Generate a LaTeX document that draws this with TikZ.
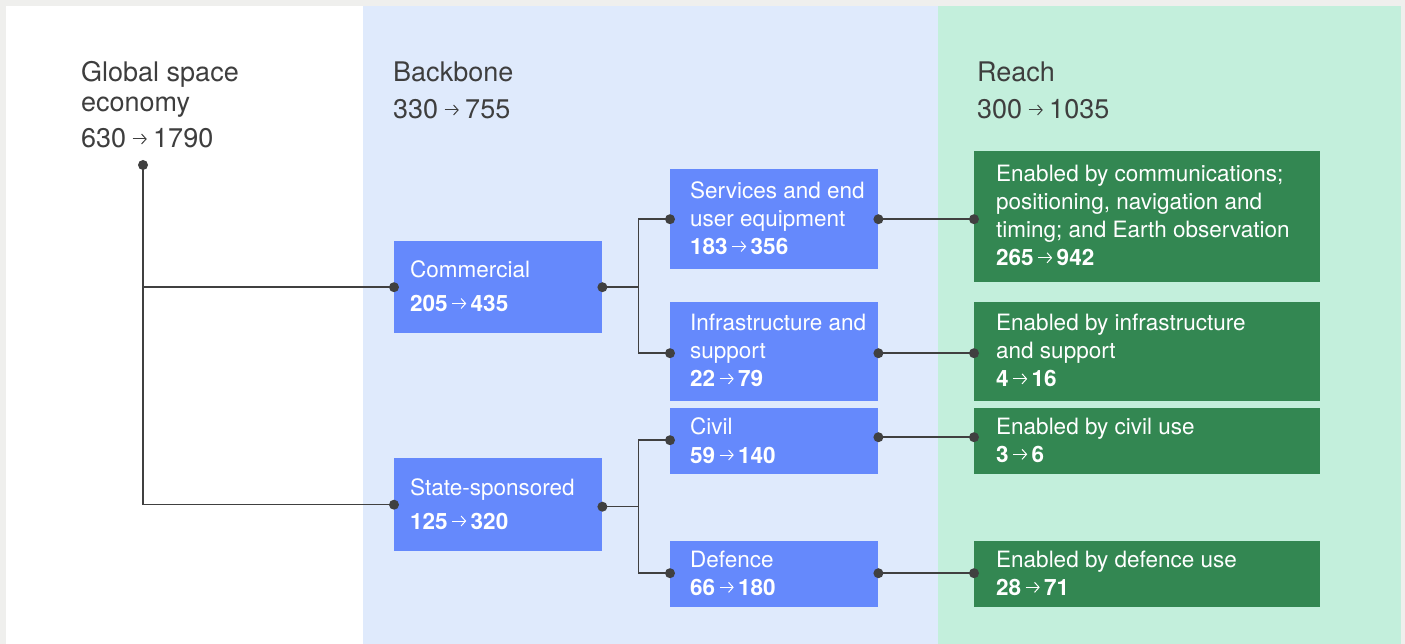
\documentclass[tikz,border=0pt]{standalone}
\usepackage{fontspec}
\setmainfont{TeX Gyre Heros}
\usetikzlibrary{arrows.meta}
\definecolor{bggray}{HTML}{EFEFED}
\definecolor{panelblue}{HTML}{DFEAFC}
\definecolor{panelgreen}{HTML}{C3EFDC}
\definecolor{boxblue}{HTML}{6589FC}
\definecolor{boxgreen}{HTML}{338752}
\definecolor{ink}{HTML}{3E3E3E}
\definecolor{lin}{HTML}{404040}
% arrow glyph: #1 length, #2 raise, #3 side gap, #4 colour
\newcommand\arw[4]{\hspace{#3}\tikz[baseline=-#2]\draw[#4, line width=1pt, -{Straight Barb[length=4.5pt,width=10pt,line width=1pt]}] (0pt,0pt) -- (#1,0pt);\hspace{#3}}
\newcommand\harr{\arw{14pt}{9pt}{6pt}{ink}}
\newcommand\barr{\arw{14pt}{8pt}{4pt}{white}}
\begin{document}
\begin{tikzpicture}[x=1pt,y=-1pt,
  head/.style={anchor=base west, inner sep=0pt, text=ink, font=\fontsize{27}{30}\selectfont},
  bluebox/.style={fill=boxblue, anchor=north west, inner sep=0pt, minimum width=208pt},
  greenbox/.style={fill=boxgreen, anchor=north west, inner sep=0pt, minimum width=346pt},
  boxtext/.style={anchor=west, align=left, inner sep=0pt, text=white, font=\fontsize{22.5}{28}\selectfont},
  conn/.style={draw=lin, line width=1.5pt},
  dot/.style={fill=lin}
]
\useasboundingbox (0,0) rectangle (1405,644);
% background panels
\fill[bggray] (0,0) rectangle (1405,644);
\fill[white] (6,6) rectangle (363,644);
\fill[panelblue] (363,6) rectangle (938,644);
\fill[panelgreen] (938,6) rectangle (1401,644);

% headers
\node[head] (g1) at (81,82) {Global space};
\node[head] (g2) at (81,112) {economy};
\node[head] (g3) at (81,148) {630\harr1790};
\node[head] (b1) at (393,82) {Backbone};
\node[head] (b2) at (393,119) {330\harr755};
\node[head] (r1) at (977,82) {Reach};
\node[head] (r2) at (977,119) {300\harr1035};

% backbone boxes
\node[bluebox, minimum height=92pt] (comm) at (394,241) {};
\node[boxtext] (commt) at ([xshift=16pt,yshift=1pt]comm.west) {Commercial\\[6pt]\textbf{205\barr435}};
\node[bluebox, minimum height=93pt] (state) at (394,458) {};
\node[boxtext] (statet) at ([xshift=16pt,yshift=1pt]state.west) {State-sponsored\\[6pt]\textbf{125\barr320}};

\node[bluebox, minimum height=100pt] (serv) at (670,169) {};
\node[boxtext] (servt) at ([xshift=20pt,yshift=1pt]serv.west) {Services and end\\user equipment\\\textbf{183\barr356}};
\node[bluebox, minimum height=99pt] (infra) at (670,302) {};
\node[boxtext] (infrat) at ([xshift=20pt,yshift=1pt]infra.west) {Infrastructure and\\support\\\textbf{22\barr79}};
\node[bluebox, minimum height=66pt] (civil) at (670,408) {};
\node[boxtext] (civilt) at ([xshift=20pt,yshift=1pt]civil.west) {Civil\\[1pt]\textbf{59\barr140}};
\node[bluebox, minimum height=66pt] (def) at (670,541) {};
\node[boxtext] (deft) at ([xshift=20pt,yshift=1pt]def.west) {Defence\\\textbf{66\barr180}};

% reach boxes
\node[greenbox, minimum height=131pt] (e1) at (974,151) {};
\node[boxtext] (e1t) at ([xshift=22pt,yshift=1pt]e1.west) {Enabled by communications;\\positioning, navigation and\\timing; and Earth observation\\\textbf{265\barr942}};
\node[greenbox, minimum height=99pt] (e2) at (974,302) {};
\node[boxtext] (e2t) at ([xshift=22pt,yshift=1pt]e2.west) {Enabled by infrastructure\\and support\\\textbf{4\barr16}};
\node[greenbox, minimum height=66pt] (e3) at (974,408) {};
\node[boxtext] (e3t) at ([xshift=22pt,yshift=1pt]e3.west) {Enabled by civil use\\\textbf{3\barr6}};
\node[greenbox, minimum height=66pt] (e4) at (974,541) {};
\node[boxtext] (e4t) at ([xshift=22pt,yshift=1pt]e4.west) {Enabled by defence use\\\textbf{28\barr71}};

% connectors
\coordinate (gdot) at (143,165);
\draw[conn] (gdot) |- (comm.west);
\draw[conn] (gdot) |- (state.west);
\coordinate (j1) at ([xshift=36pt]comm.east);
\draw[conn] (comm.east) -- (j1) |- (serv.west);
\draw[conn] (j1) |- ([yshift=-1.5pt]infra.west);
\coordinate (j2) at ([xshift=36pt,yshift=-2pt]state.east);
\draw[conn] ([yshift=-2pt]state.east) -- (j2) |- ([yshift=1pt]civil.west);
\draw[conn] (j2) |- ([yshift=1pt]def.west);
\draw[conn] (serv.east) -- (serv.east -| e1.west);
\draw[conn] ([yshift=-1.5pt]infra.east) -- ([yshift=-1.5pt]infra.east -| e2.west);
\draw[conn] ([yshift=4pt]civil.east) -- ([yshift=4pt]civil.east -| e3.west);
\draw[conn] ([yshift=1pt]def.east) -- ([yshift=1pt]def.east -| e4.west);

% dots
\foreach \p in {gdot, comm.west, state.west, comm.east, serv.west, serv.east, {serv.east -| e1.west}}
  \fill[dot] (\p) circle (5pt);
\fill[dot] ([yshift=-1.5pt]infra.west) circle (5pt);
\fill[dot] ([yshift=-1.5pt]infra.east) circle (5pt);
\fill[dot] ([yshift=-1.5pt]infra.east -| e2.west) circle (5pt);
\fill[dot] ([yshift=-2pt]state.east) circle (5pt);
\fill[dot] ([yshift=1pt]civil.west) circle (5pt);
\fill[dot] ([yshift=4pt]civil.east) circle (5pt);
\fill[dot] ([yshift=4pt]civil.east -| e3.west) circle (5pt);
\fill[dot] ([yshift=1pt]def.west) circle (5pt);
\fill[dot] ([yshift=1pt]def.east) circle (5pt);
\fill[dot] ([yshift=1pt]def.east -| e4.west) circle (5pt);
\end{tikzpicture}
\end{document}
